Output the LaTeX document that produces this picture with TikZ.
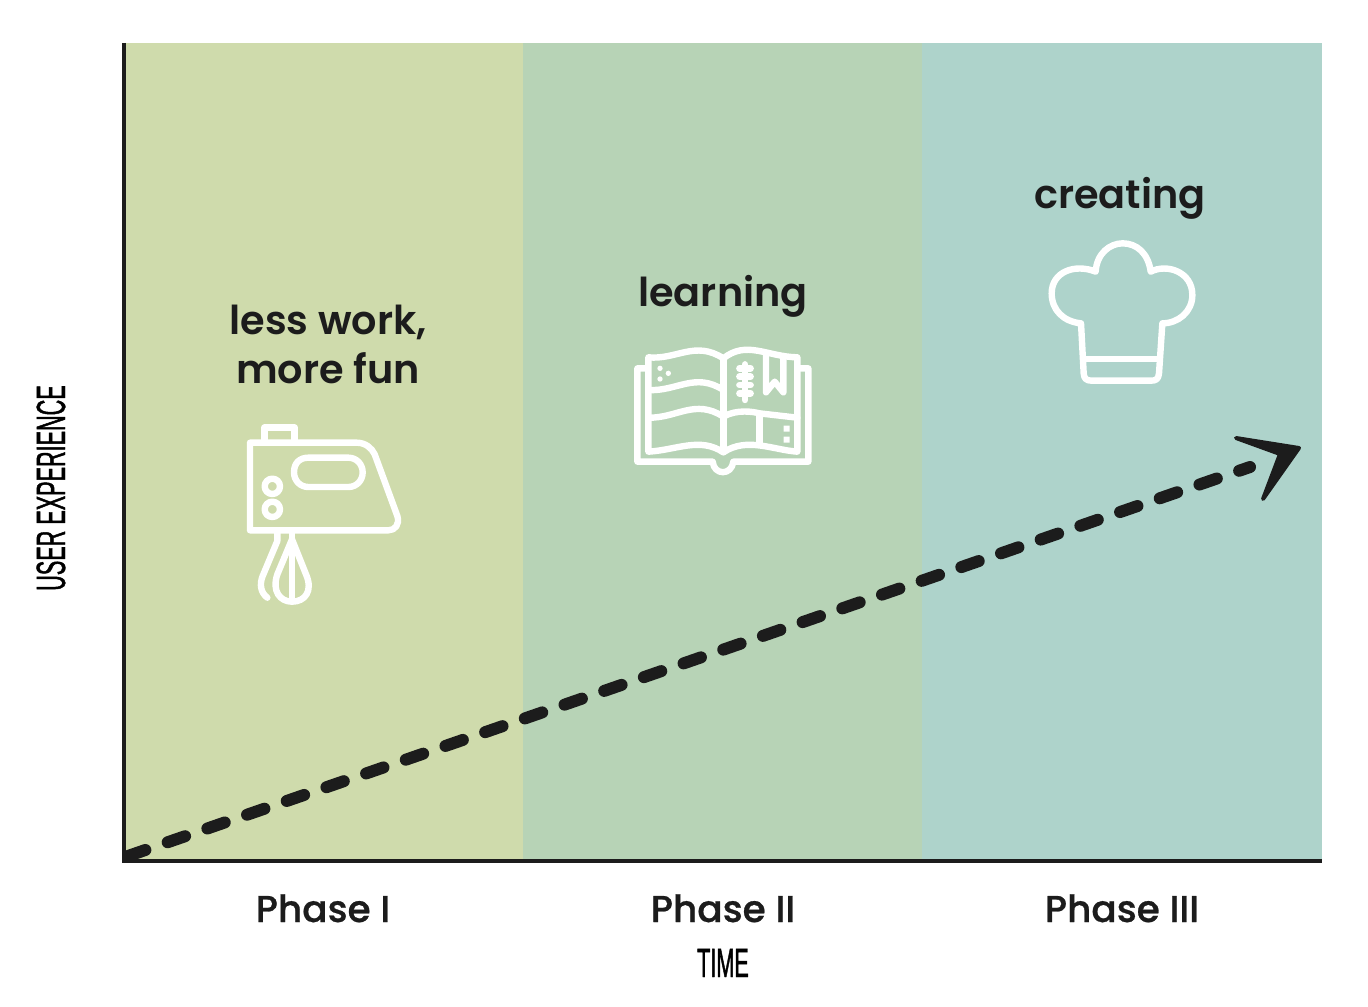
\documentclass[tikz,border=0pt]{standalone}
\usepackage{fontspec}
\setmainfont{Poppins SemiBold}
\newfontfamily\footfont{Poppins Medium}[FakeBold=0.7]
\newfontfamily\condfont[FakeStretch=0.53,FakeBold=1.0]{Liberation Sans}
\definecolor{inkc}{HTML}{1C1C1C}
\definecolor{pa}{HTML}{CFDBAC}
\definecolor{pb}{HTML}{B7D3B6}
\definecolor{pc}{HTML}{AED3CB}
\tikzset{
  panel/.style={draw=none,minimum height=408.5pt,minimum width=200pt,inner sep=0pt,anchor=north west},
  bigtext/.style={font=\fontsize{19.9}{24.5}\selectfont,text=inkc,align=center,anchor=base,inner sep=0pt},
  foottext/.style={font=\footfont\fontsize{18.7}{24}\selectfont,text=inkc,align=center,anchor=base,inner sep=0pt},
  axistext/.style={font=\condfont\fontsize{20.4}{21}\selectfont,text=black,anchor=base,inner sep=0pt},
  axisline/.style={draw=inkc,line width=2pt},
  icon/.style={draw=white,line width=3.2pt,line cap=round,line join=round,x=0.16667pt,y=-0.16667pt},
  trend/.style={draw=inkc,line width=6pt,line cap=round,dash pattern=on 9.2pt off 11.8pt},
  headtip/.style={fill=inkc,draw=inkc,line width=2pt,line join=round}
}
\begin{document}
\begin{tikzpicture}[x=0.5pt,y=-0.5pt]
\useasboundingbox (0,0) rectangle (1368,1006);
\node[panel,fill=pa,minimum width=200pt] (p1) at (123,43) {};
\node[panel,fill=pb,minimum width=199.5pt] (p2) at (523,43) {};
\node[panel,fill=pc,minimum width=200pt] (p3) at (922,43) {};
\coordinate (origin) at (123.5,862);
\coordinate (top) at (123.5,43);
\coordinate (right) at (1322,861);
\draw[axisline] (top) -- (origin |- right) -- (right);
% trend
\coordinate (tstart) at (128,856);
\coordinate (tend) at (1250,467);
\draw[trend] (tstart) -- (tend);
\coordinate (h1) at (1236,438);
\coordinate (h2) at (1299,448);
\coordinate (h3) at (1280,454);
\coordinate (h4) at (1263,499);
\fill[headtip] (h1) -- (h2) -- (h4) -- (h3) -- cycle;
% labels
\node[bigtext] (t1) at (328,334) {less work,};
\node[bigtext] (t1b) at (328,383) {more fun};
\node[bigtext] (t2) at (723,306) {learning};
\node[bigtext] (t3) at (1120,208) {creating};
\node[foottext] (f1) at (323,922) {Phase I};
\node[foottext] (f2) at (723,922) {Phase II};
\node[foottext] (f3) at (1122,922) {Phase III};
\node[axistext] (tx) at (723,977) {TIME};
\node[axistext,rotate=90] (ty) at (65,488) {USER EXPERIENCE};
% mixer
\begin{scope}[shift={(220,411)},icon]
\draw (90,95) -- (410,95) .. controls (435,95) and (455,110) .. (464,130) -- (532,315) .. controls (540,340) and (525,358) .. (505,358) -- (90,358) -- cycle;
\draw (133,95) -- (133,50) -- (224,50) -- (224,95);
\draw (222,184) .. controls (222,155) and (240,140) .. (265,140) -- (385,140) .. controls (410,140) and (428,160) .. (428,184) .. controls (428,208) and (410,228) .. (385,228) -- (265,228) .. controls (240,228) and (222,208) .. (222,184) -- cycle;
\draw (157,226) circle[radius=23];
\draw (157,295) circle[radius=23];
\draw (172,358) -- (172,390) -- (128,495) .. controls (118,520) and (122,545) .. (142,560);
\draw (216,358) -- (216,572);
\draw (216,385) -- (258,490) .. controls (280,540) and (255,572) .. (216,572) .. controls (180,572) and (155,540) .. (172,490) -- cycle;
\end{scope}
% book
\begin{scope}[shift={(620,335)},icon]
\draw (75,100) -- (52,100) -- (52,380) -- (278,380) .. controls (282,422) and (335,422) .. (340,380) -- (565,380) -- (565,100) -- (540,100);
\draw (85,67) .. controls (170,75) and (225,15) .. (310,70) .. controls (380,15) and (440,65) .. (532,67) -- (532,350) .. controls (460,345) and (380,305) .. (310,352) .. controls (240,305) and (170,345) .. (85,350) -- cycle;
\draw (85,165) .. controls (170,170) and (225,110) .. (310,165);
\draw (85,248) .. controls (170,250) and (225,190) .. (310,245) .. controls (350,222) and (400,230) .. (418,235) -- (532,248);
\draw (310,70) -- (310,352);
\draw (418,235) -- (418,325);
\draw (438,62) -- (438,172) -- (464,140) -- (490,172) -- (490,65);
\draw (375,88) -- (375,195);
\draw (358,100) -- (392,100) (358,125) -- (392,125) (358,150) -- (392,150) (358,175) -- (392,175);
\fill[white] (120,100) circle[radius=8] (145,115) circle[radius=8] (120,132) circle[radius=8];
\fill[white] (491,272) rectangle (509,290) (491,305) rectangle (509,323);
\end{scope}
% hat
\begin{scope}[shift={(1030,230)},icon]
\draw (197,125) .. controls (200,70) and (240,40) .. (278,40) .. controls (320,40) and (355,70) .. (362,125) .. controls (410,100) and (487,125) .. (487,195) .. controls (487,245) and (445,280) .. (397,280) -- (387,430) .. controls (385,448) and (378,452) .. (362,452) -- (185,452) .. controls (168,452) and (162,445) .. (161,430) -- (153,280) .. controls (100,275) and (65,240) .. (65,190) .. controls (65,125) and (135,100) .. (197,125) -- cycle;
\draw (165,387) -- (385,387);
\end{scope}
\end{tikzpicture}
\end{document}
